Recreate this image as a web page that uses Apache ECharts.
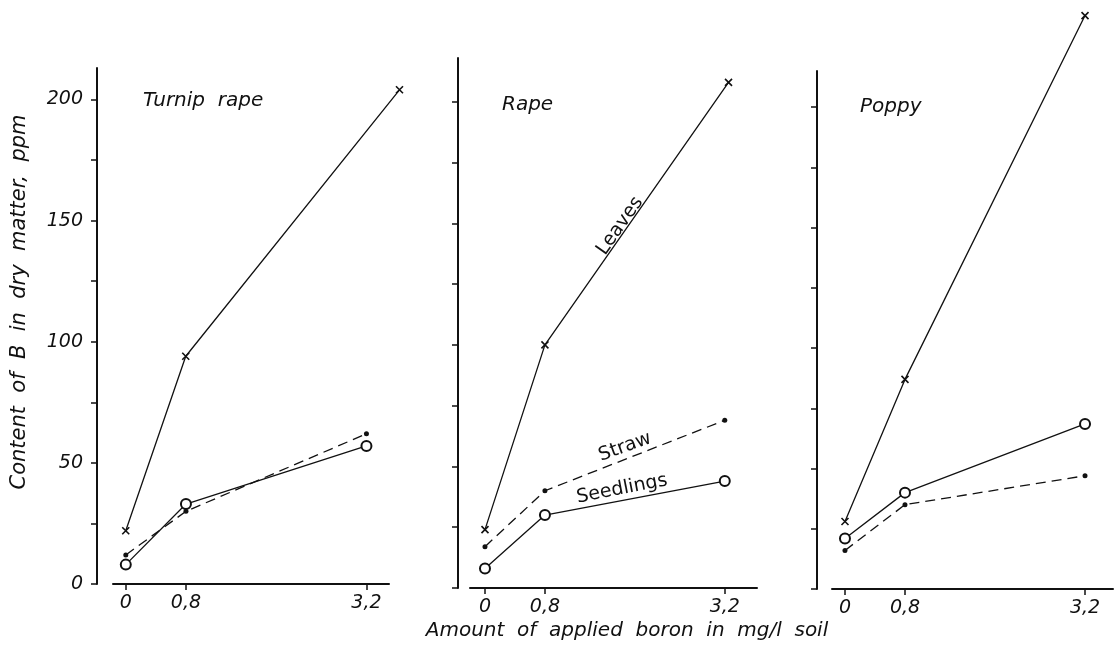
<!DOCTYPE html>
<html>
<head>
<meta charset="utf-8">
<title>Boron content</title>
<script src="https://cdn.jsdelivr.net/npm/echarts@6/dist/echarts.min.js"></script>
<style>
  html, body { margin: 0; padding: 0; background: #fff; }
  #chart { width: 1114px; height: 648px; }
</style>
</head>
<body>
<div id="chart"></div>
<script>
// applied boron, mg/l soil
const dose = [0, 0.8, 3.2];
const xLabels = ["0", "0,8", "3,2"];
const yTicks = [0, 25, 50, 75, 100, 125, 150, 175, 200];
const yLabels = [0, 50, 100, 150, 200];
const panelNames = ["Turnip  rape", "Rape", "Poppy"];

// B content in dry matter, ppm
const turnipLeavesX = [0, 0.8, 3.65];
const turnipLeaves = [22, 94, 204];
const turnipStraw = [12, 30, 62];
const turnipSeedlings = [8, 33, 57];

const rapeLeavesX = [0, 0.8, 3.25];
const rapeLeaves = [24, 100, 208];
const rapeStraw = [17, 40, 69];
const rapeSeedlings = [8, 30, 44];

const poppyLeaves = [28, 87, 238];
const poppyStraw = [16, 35, 47];
const poppySeedlings = [21, 40, 68.5];

const FONT = "DejaVu Sans";
const INK = "#111";

const chart = echarts.init(document.getElementById("chart"));

const pairs = (xs, ys) => xs.map((x, i) => [x, ys[i]]);

// per panel layout
const grids = [
  { left: 113, top: 68, width: 276, height: 516 },
  { left: 470, top: 58, width: 287, height: 530 },
  { left: 832, top: 71, width: 281, height: 518 },
];
const xRanges = [[-0.17, 3.5], [-0.2, 3.63], [-0.173, 3.573]];
const yMax = [213, 218, 215];
const yOffsets = [16, 12, 15];

const xAxes = grids.map((g, i) => ({
  type: "value",
  gridIndex: i,
  min: xRanges[i][0],
  max: xRanges[i][1],
  splitLine: { show: false },
  axisLine: { onZero: false, lineStyle: { color: INK, width: 2 } },
  axisTick: {
    customValues: dose,
    length: 6,
    lineStyle: { color: INK, width: 1.5 },
  },
  axisLabel: {
    customValues: dose,
    formatter: (v) => xLabels[dose.indexOf(v)],
    margin: 10,
    color: INK,
    fontFamily: FONT,
    fontStyle: "italic",
    fontSize: 19,
  },
}));

const yAxes = grids.map((g, i) => ({
  type: "value",
  gridIndex: i,
  min: 0,
  max: yMax[i],
  offset: yOffsets[i],
  splitLine: { show: false },
  axisLine: { show: true, onZero: false, lineStyle: { color: INK, width: 2 } },
  axisTick: {
    show: true,
    customValues: yTicks,
    length: 6,
    lineStyle: { color: INK, width: 1.5 },
  },
  axisLabel: {
    show: i === 0,
    customValues: yLabels,
    margin: 14,
    color: INK,
    fontFamily: FONT,
    fontStyle: "italic",
    fontSize: 19,
  },
}));

// the turnip rape leaves point at 3,2 sits past the end of the drawn axis,
// so that line gets a wider, hidden copy of panel 1's scales
grids.push({ left: 113, top: 68, width: 290, height: 516 });
xAxes.push({ type: "value", gridIndex: 3, min: -0.17, max: -0.17 + 290 / 75, show: false });
yAxes.push({ type: "value", gridIndex: 3, min: 0, max: 213, show: false });

const crossSymbol = "path://M0,0L10,10M10,0L0,10";

function leavesSeries(i, xs, ys) {
  return {
    type: "line",
    xAxisIndex: i,
    yAxisIndex: i,
    data: pairs(xs, ys),
    clip: false,
    symbol: crossSymbol,
    symbolSize: 7,
    itemStyle: { color: "none", borderColor: INK, borderWidth: 1.6 },
    lineStyle: { color: INK, width: 1.3 },
  };
}
function strawSeries(i, ys) {
  return {
    type: "line",
    xAxisIndex: i,
    yAxisIndex: i,
    data: pairs(dose, ys),
    clip: false,
    symbol: "circle",
    symbolSize: 5,
    itemStyle: { color: INK, borderWidth: 0 },
    lineStyle: { color: INK, width: 1.3, type: [10, 6] },
  };
}
function seedlingSeries(i, ys) {
  return {
    type: "line",
    xAxisIndex: i,
    yAxisIndex: i,
    data: pairs(dose, ys),
    clip: false,
    symbol: "emptyCircle",
    symbolSize: 10,
    itemStyle: { color: INK, borderColor: INK, borderWidth: 1.6 },
    lineStyle: { color: INK, width: 1.3 },
    z: 3,
  };
}

const series = [
  leavesSeries(3, turnipLeavesX, turnipLeaves),
  strawSeries(0, turnipStraw),
  seedlingSeries(0, turnipSeedlings),
  leavesSeries(1, rapeLeavesX, rapeLeaves),
  strawSeries(1, rapeStraw),
  seedlingSeries(1, rapeSeedlings),
  leavesSeries(2, dose, poppyLeaves),
  strawSeries(2, poppyStraw),
  seedlingSeries(2, poppySeedlings),
];

const italic = { fill: INK, fontFamily: FONT, fontStyle: "italic", fontSize: 20 };
const upright = { fill: INK, fontFamily: FONT, fontSize: 19 };

const option = {
  animation: false,
  backgroundColor: "#fff",
  grid: grids,
  xAxis: xAxes,
  yAxis: yAxes,
  series: series,
  graphic: [
    { type: "text", x: 143, y: 101, style: { ...italic, text: panelNames[0], verticalAlign: "middle" } },
    { type: "text", x: 502, y: 105, style: { ...italic, text: panelNames[1], verticalAlign: "middle" } },
    { type: "text", x: 860, y: 107, style: { ...italic, text: panelNames[2], verticalAlign: "middle" } },
    {
      type: "text", x: 20, y: 302, rotation: Math.PI / 2,
      style: { ...italic, fontSize: 21, text: "Content  of  B  in  dry  matter,  ppm", align: "center", verticalAlign: "middle" },
    },
    {
      type: "text", x: 627, y: 631,
      style: { ...italic, text: "Amount  of  applied  boron  in  mg/l  soil", align: "center", verticalAlign: "middle" },
    },
    {
      type: "text", x: 620, y: 226, rotation: 54.8 * Math.PI / 180,
      style: { ...upright, text: "Leaves", align: "center", verticalAlign: "middle" },
    },
    {
      type: "text", x: 625, y: 447, rotation: 20 * Math.PI / 180,
      style: { ...upright, text: "Straw", align: "center", verticalAlign: "middle" },
    },
    {
      type: "text", x: 622, y: 489, rotation: 11 * Math.PI / 180,
      style: { ...upright, text: "Seedlings", align: "center", verticalAlign: "middle" },
    },
  ],
};

chart.setOption(option);
</script>
</body>
</html>
